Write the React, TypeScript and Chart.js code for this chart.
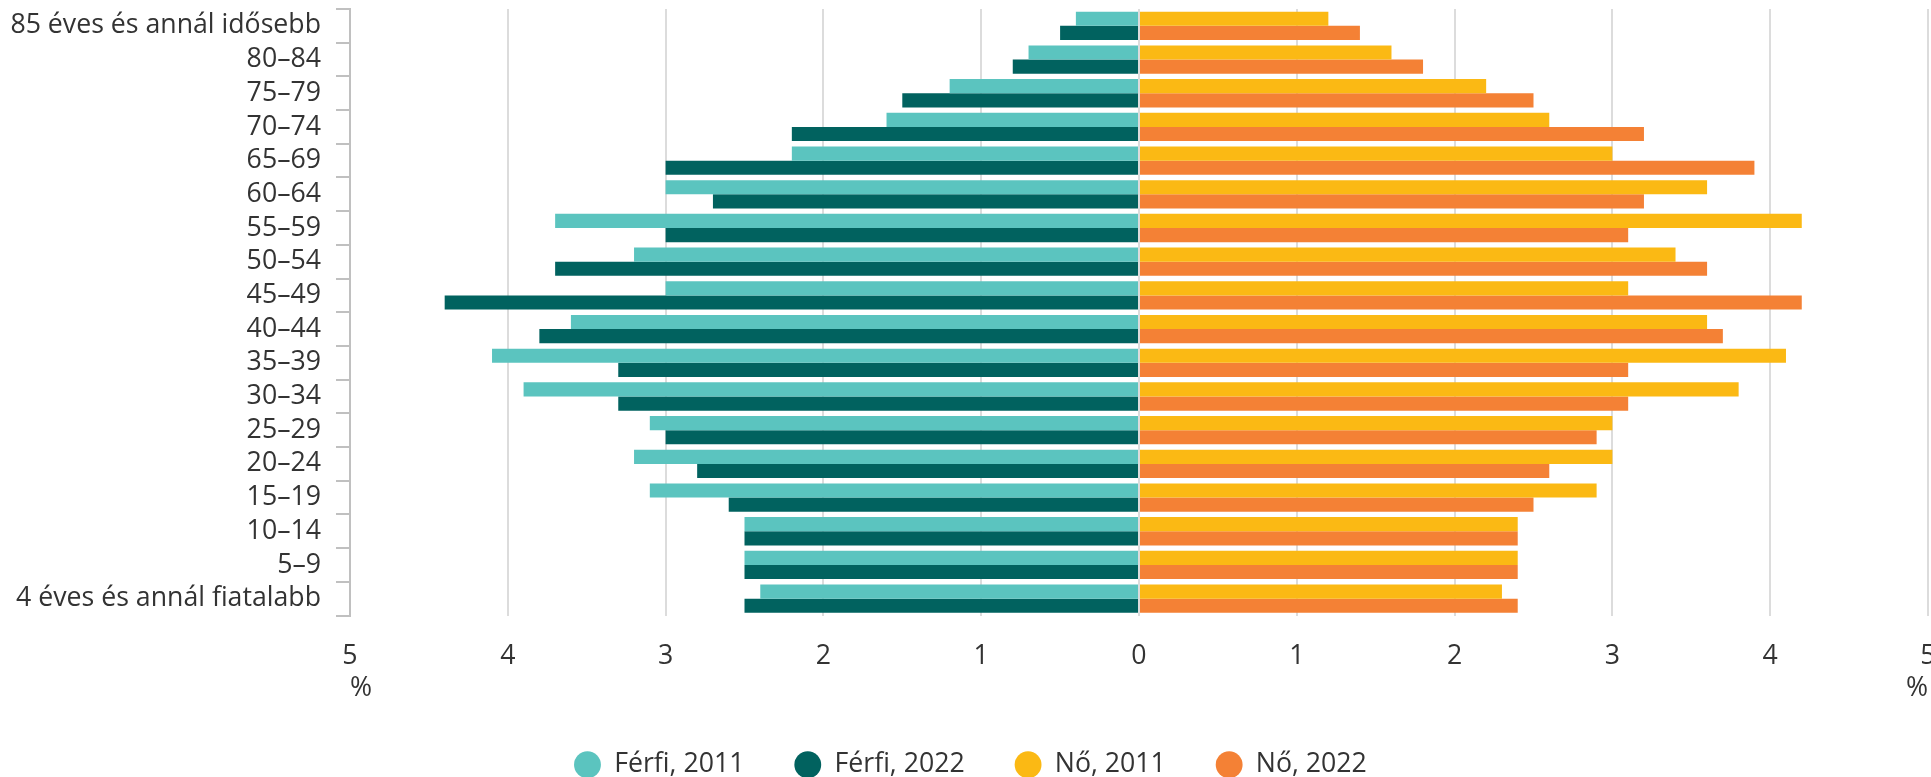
import React, { useEffect, useRef } from 'react';
import { Chart, registerables } from 'chart.js';

Chart.register(...registerables);

// ---- Data ----
const categories = [
  '85 éves és annál idősebb',
  '80–84',
  '75–79',
  '70–74',
  '65–69',
  '60–64',
  '55–59',
  '50–54',
  '45–49',
  '40–44',
  '35–39',
  '30–34',
  '25–29',
  '20–24',
  '15–19',
  '10–14',
  '5–9',
  '4 éves és annál fiatalabb',
];

// percentages (male values plotted to the left)
const male2011 = [0.4, 0.7, 1.2, 1.6, 2.2, 3.0, 3.7, 3.2, 3.0, 3.6, 4.1, 3.9, 3.1, 3.2, 3.1, 2.5, 2.5, 2.4];
const male2022 = [0.5, 0.8, 1.5, 2.2, 3.0, 2.7, 3.0, 3.7, 4.4, 3.8, 3.3, 3.3, 3.0, 2.8, 2.6, 2.5, 2.5, 2.5];
const female2011 = [1.2, 1.6, 2.2, 2.6, 3.0, 3.6, 4.2, 3.4, 3.1, 3.6, 4.1, 3.8, 3.0, 3.0, 2.9, 2.4, 2.4, 2.3];
const female2022 = [1.4, 1.8, 2.5, 3.2, 3.9, 3.2, 3.1, 3.6, 4.2, 3.7, 3.1, 3.1, 2.9, 2.6, 2.5, 2.4, 2.4, 2.4];

const seriesNames = ['Férfi, 2011', 'Férfi, 2022', 'Nő, 2011', 'Nő, 2022'];
const seriesColors = ['#5bc4bf', '#01625f', '#fbb914', '#f48135'];

const xTickLabels = ['5', '4', '3', '2', '1', '0', '1', '2', '3', '4', '5'];
const axisUnit = '%';

const FONT = "'Open Sans', sans-serif";
const TEXT = '#333333';
const FS = 26.7;

// let the category labels use the full left margin (avoid clipping)
const labelAreaPlugin = {
  id: 'labelArea',
  afterLayout(chart: any) {
    if (chart.scales.y) chart.scales.y.left = 0;
  },
};

export default function App() {
  const ref = useRef<HTMLCanvasElement | null>(null);

  useEffect(() => {
    if (!ref.current) return;
    const chart = new Chart(ref.current, {
      type: 'bar',
      data: {
        labels: categories,
        datasets: [
          { label: seriesNames[0], data: male2011.map((v) => -v), backgroundColor: seriesColors[0], stack: '2011' },
          { label: seriesNames[1], data: male2022.map((v) => -v), backgroundColor: seriesColors[1], stack: '2022' },
          { label: seriesNames[2], data: female2011, backgroundColor: seriesColors[2], stack: '2011' },
          { label: seriesNames[3], data: female2022, backgroundColor: seriesColors[3], stack: '2022' },
        ],
      },
      plugins: [labelAreaPlugin],
      options: {
        indexAxis: 'y',
        responsive: false,
        animation: false,
        datasets: {
          bar: { categoryPercentage: 0.84, barPercentage: 1.0, borderWidth: 0 },
        },
        layout: { padding: { top: 9, right: 3, left: 13, bottom: 0 } },
        scales: {
          x: {
            type: 'linear',
            stacked: true,
            min: -5,
            max: 5,
            grid: { color: '#dcdcdc', lineWidth: 2, drawTicks: false },
            border: { display: false },
            ticks: {
              stepSize: 1,
              padding: 24.8,
              color: TEXT,
              font: { family: FONT, size: FS },
              callback: (_v: any, i: number) => xTickLabels[i],
            },
            title: {
              display: true,
              text: axisUnit,
              align: 'start',
              color: TEXT,
              padding: 0,
              font: { family: FONT, size: FS, lineHeight: 0.94 },
            },
            afterFit: (s: any) => {
              s.height = 85.8;
              s.paddingRight = 0;
              s.paddingLeft = 0;
            },
          },
          x2: {
            type: 'linear',
            position: 'bottom',
            weight: 1,
            min: -5,
            max: 5,
            grid: { display: false },
            border: { display: false },
            ticks: { display: false },
            title: {
              display: true,
              text: axisUnit,
              align: 'end',
              color: TEXT,
              padding: 0,
              font: { family: FONT, size: FS, lineHeight: 0.94 },
            },
            afterFit: (s: any) => {
              s.height = 0;
              s.paddingRight = 0;
              s.paddingLeft = 0;
            },
          },
          y: {
            grid: {
              drawOnChartArea: false,
              color: '#c0c0c0',
              lineWidth: 2,
              tickLength: 14,
              offset: true,
            },
            border: { color: '#c0c0c0', width: 2 },
            ticks: {
              autoSkip: false,
              padding: 15,
              color: TEXT,
              font: { family: FONT, size: FS },
            },
            afterFit: (s: any) => {
              s.width = 337;
              s.paddingTop = 0;
              s.paddingBottom = 0;
            },
          },
        },
        plugins: {
          tooltip: { enabled: false },
          legend: {
            position: 'bottom',
            labels: {
              usePointStyle: true,
              pointStyle: 'circle',
              boxHeight: 19,
              padding: 50,
              color: TEXT,
              font: { family: FONT, size: FS },
            },
          },
        },
      },
    } as any);
    return () => chart.destroy();
  }, []);

  return (
    <div style={{ position: 'fixed', left: 0, top: 0, width: 1931, height: 777, overflow: 'hidden', background: '#fff' }}>
      <canvas ref={ref} width={1931} height={788} style={{ width: 1931, height: 788, display: 'block' }} />
    </div>
  );
}
